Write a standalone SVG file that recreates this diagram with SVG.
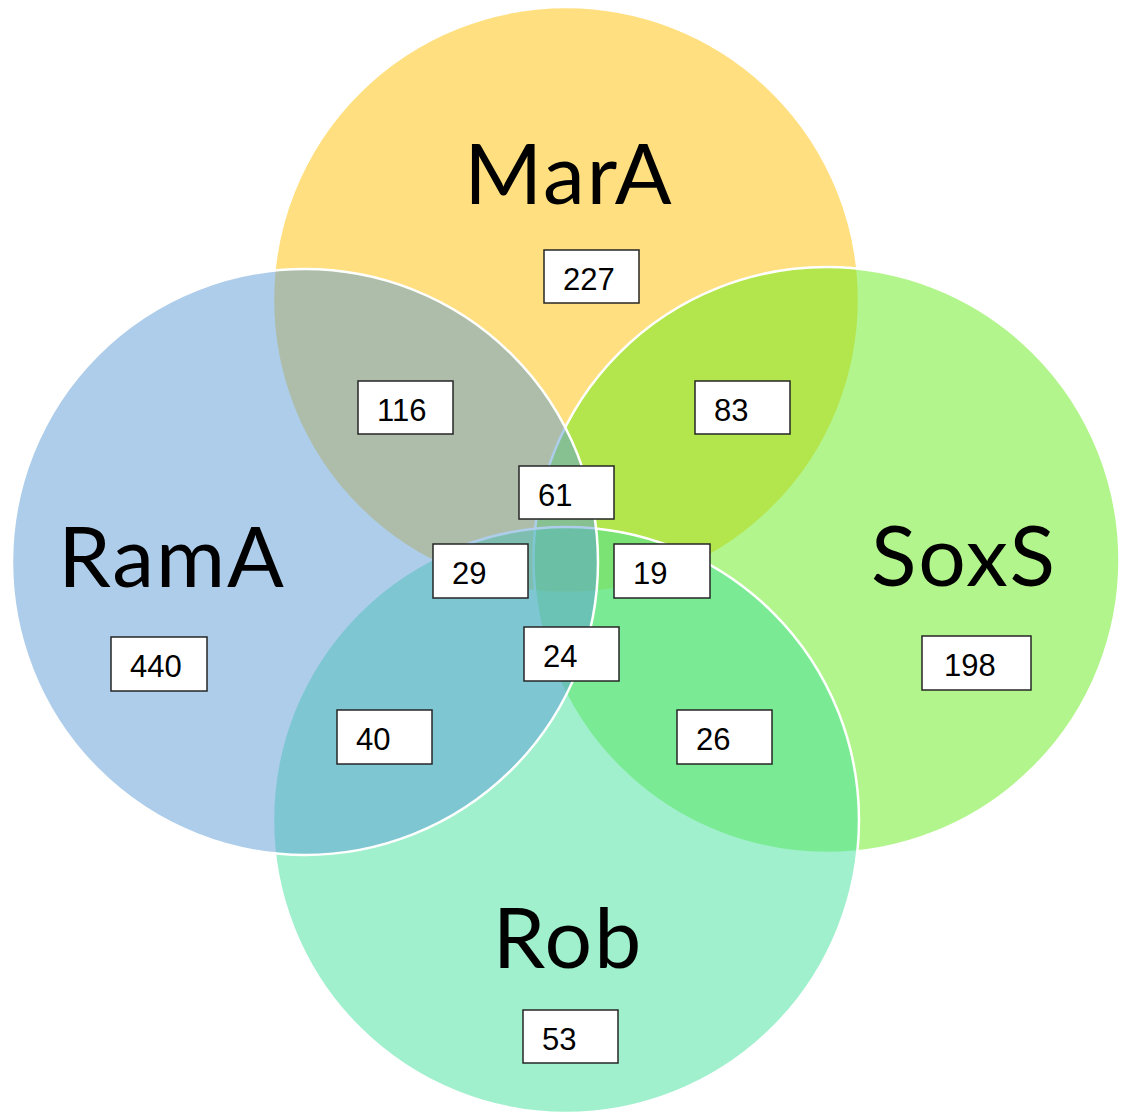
<svg xmlns="http://www.w3.org/2000/svg" width="1129" height="1112" viewBox="0 0 1129 1112">
<style>
.set{stroke:#ffffff;stroke-width:2.5;fill-opacity:0.5}
.lbl{font-family:Lato,"Liberation Sans",sans-serif;font-size:84px;letter-spacing:2px;fill:#000;text-anchor:middle}
.box{fill:#ffffff;stroke:#262626;stroke-width:1.5}
.num{font-family:"Liberation Sans",Arial,sans-serif;font-size:31px;fill:#000}
</style>
<rect width="1129" height="1112" fill="#ffffff"/>
<g id="set-MarA">
<circle class="set" cx="566" cy="300" r="293" fill="#FFC000"/>
<text class="lbl" x="569" y="204">MarA</text>
</g>
<g id="set-SoxS">
<circle class="set" cx="826.5" cy="560" r="293" fill="#67EB1B"/>
<text class="lbl" x="964" y="586">SoxS</text>
</g>
<g id="set-Rob">
<circle class="set" cx="566" cy="820" r="293" fill="#41E19B"/>
<text class="lbl" x="568" y="968">Rob</text>
</g>
<g id="set-RamA">
<circle class="set" cx="305" cy="562" r="293" fill="#5B9BD5"/>
<text class="lbl" x="172" y="587">RamA</text>
</g>
<g id="connectors"></g>
<g id="count-227"><rect class="box" x="544" y="250" width="95" height="53"/><text class="num" x="563" y="290">227</text></g>
<g id="count-116"><rect class="box" x="358" y="381" width="95" height="53"/><text class="num" x="377" y="421">116</text></g>
<g id="count-83"><rect class="box" x="695" y="381" width="95" height="53"/><text class="num" x="714" y="421">83</text></g>
<g id="count-61"><rect class="box" x="519" y="466" width="95" height="53"/><text class="num" x="538" y="506">61</text></g>
<g id="count-29"><rect class="box" x="433" y="544" width="95" height="54"/><text class="num" x="452" y="584">29</text></g>
<g id="count-19"><rect class="box" x="614" y="544" width="96" height="54"/><text class="num" x="633" y="584">19</text></g>
<g id="count-24"><rect class="box" x="524" y="627" width="95" height="54"/><text class="num" x="543" y="667">24</text></g>
<g id="count-440"><rect class="box" x="111" y="637" width="96" height="54"/><text class="num" x="130" y="677">440</text></g>
<g id="count-198"><rect class="box" x="922" y="636" width="109" height="54"/><text class="num" x="944" y="676">198</text></g>
<g id="count-40"><rect class="box" x="337" y="710" width="95" height="54"/><text class="num" x="356" y="750">40</text></g>
<g id="count-26"><rect class="box" x="677" y="710" width="95" height="54"/><text class="num" x="696" y="750">26</text></g>
<g id="count-53"><rect class="box" x="523" y="1010" width="95" height="53"/><text class="num" x="542" y="1050">53</text></g>
</svg>
